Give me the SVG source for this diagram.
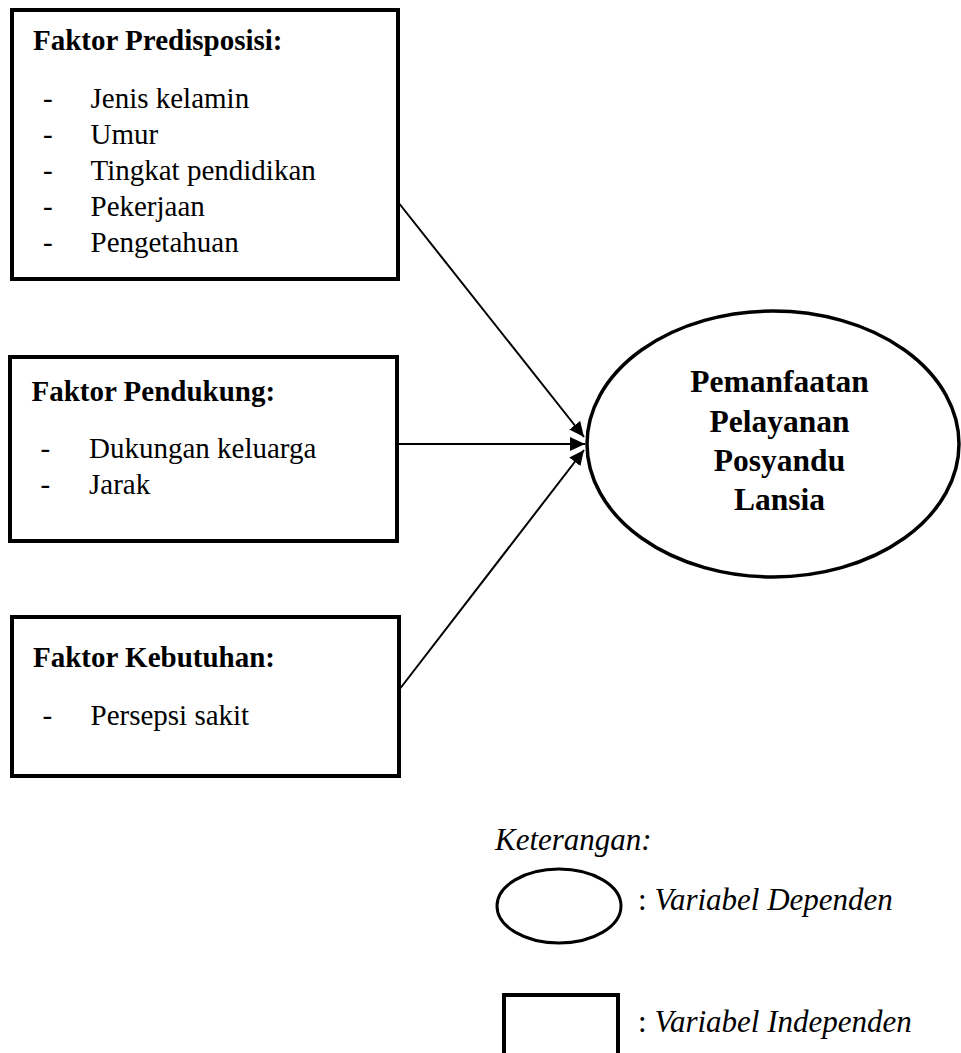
<svg xmlns="http://www.w3.org/2000/svg" width="961" height="1053" viewBox="0 0 961 1053">
<defs>
<marker id="arr" markerUnits="userSpaceOnUse" markerWidth="16" markerHeight="14" refX="15" refY="7" orient="auto">
<path d="M0,0 L15,7 L0,14 Z" fill="#000"/>
</marker>
<style>
.box{fill:#fff;stroke:#000;stroke-width:4}
.t{font-family:"Liberation Serif","Times New Roman",serif;fill:#000}
.h{font-size:29px;font-weight:bold}
.b{font-size:29px}
.e{font-size:31.5px;font-weight:bold;text-anchor:middle}
.i{font-size:31px;font-style:italic}
.c{stroke:#000;stroke-width:2;fill:none;marker-end:url(#arr)}
</style>
</defs>
<rect width="961" height="1053" fill="#fff"/>
<g id="connectors">
<line class="c" x1="398" y1="202" x2="584" y2="437"/>
<line class="c" x1="397" y1="444" x2="585" y2="444"/>
<line class="c" x1="399" y1="690" x2="584" y2="450"/>
</g>
<g id="node-predisposisi">
<rect class="box" x="12" y="10" width="386" height="269"/>
<text class="t h" x="33" y="50">Faktor Predisposisi:</text>
<text class="t b" x="43" y="107.5">-</text><text class="t b" x="90.5" y="107.5">Jenis kelamin</text>
<text class="t b" x="43" y="143.5">-</text><text class="t b" x="90.5" y="143.5">Umur</text>
<text class="t b" x="43" y="179.5">-</text><text class="t b" x="90.5" y="179.5">Tingkat pendidikan</text>
<text class="t b" x="43" y="215.5">-</text><text class="t b" x="90.5" y="215.5">Pekerjaan</text>
<text class="t b" x="43" y="251.5">-</text><text class="t b" x="90.5" y="251.5">Pengetahuan</text>
</g>
<g id="node-pendukung">
<rect class="box" x="10" y="357" width="387" height="184"/>
<text class="t h" x="31.5" y="400.5">Faktor Pendukung:</text>
<text class="t b" x="40.5" y="457.5">-</text><text class="t b" x="89" y="457.5">Dukungan keluarga</text>
<text class="t b" x="40.5" y="494">-</text><text class="t b" x="89" y="494">Jarak</text>
</g>
<g id="node-kebutuhan">
<rect class="box" x="12" y="617" width="387" height="159"/>
<text class="t h" x="33" y="667">Faktor Kebutuhan:</text>
<text class="t b" x="42.5" y="725">-</text><text class="t b" x="90.5" y="725">Persepsi sakit</text>
</g>
<g id="node-pemanfaatan">
<ellipse cx="773" cy="444" rx="186" ry="133" fill="#fff" stroke="#000" stroke-width="3.5"/>
<text class="t e" x="779.5" y="391.5">Pemanfaatan</text>
<text class="t e" x="779.5" y="431.5">Pelayanan</text>
<text class="t e" x="779.5" y="471">Posyandu</text>
<text class="t e" x="779.5" y="510">Lansia</text>
</g>
<g id="legend">
<text class="t i" x="495" y="850">Keterangan:</text>
<ellipse cx="559" cy="906" rx="62" ry="37" fill="none" stroke="#000" stroke-width="3"/>
<text class="t i" x="638" y="910"><tspan font-style="normal">: </tspan>Variabel Dependen</text>
<rect x="504" y="995" width="114" height="70" fill="none" stroke="#000" stroke-width="4"/>
<text class="t i" x="638" y="1031.5"><tspan font-style="normal">: </tspan>Variabel Independen</text>
</g>
</svg>
